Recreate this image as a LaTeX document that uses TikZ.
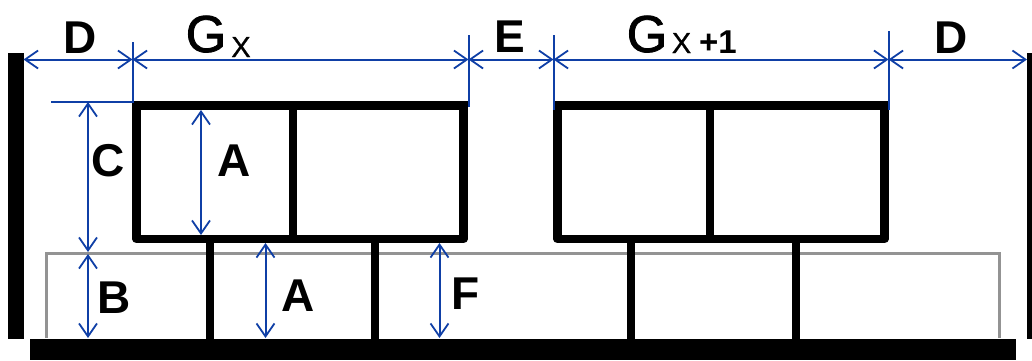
\documentclass[tikz,border=0pt]{standalone}
\usepackage{fontspec}
\setmainfont{Liberation Sans}
\newfontfamily\heavyfont[FakeBold=1.6]{Liberation Sans}
\newfontfamily\midfont[FakeBold=0.8]{Liberation Sans}
\usetikzlibrary{arrows.meta}
\definecolor{dimblue}{HTML}{0F3FA6}
\tikzset{
  dimline/.style={{Straight Barb[length=13pt,width=18pt,line width=1.8pt]}-{Straight Barb[length=13pt,width=18pt,line width=1.8pt]},dimblue,line width=2pt},
  guide/.style={dimblue,line width=2pt},
  frame/.style={black,line width=8.6pt,line join=round},
  bigtag/.style={inner sep=0pt,anchor=base,font=\fontsize{46}{46}\selectfont\bfseries},
  gtag/.style={inner sep=0pt,anchor=base,font=\fontsize{52}{52}\selectfont\heavyfont},
  xtag/.style={inner sep=0pt,anchor=base,font=\fontsize{29}{29}\selectfont\midfont},
  plustag/.style={inner sep=0pt,anchor=base,font=\fontsize{33}{33}\selectfont\bfseries}
}
\begin{document}
\begin{tikzpicture}[x=1pt,y=-1pt]
\useasboundingbox (0,0) rectangle (1032,360);
% room
\draw[gray!85,line width=2.2pt] (46.5,338) -- (46.5,253.5) -- (999.5,253.5) -- (999.5,338);
\fill[black] (8,53) rectangle (23.5,338.5);
\fill[black] (1027,53) rectangle (1032,338.5);
\fill[black] (30,339) rectangle (1016,360);
% the two units
\foreach \x/\m/\i in {132/293/1,553/710/2}{
  \draw[frame] (\x+4.5,105) -- (\x+4.5,239) -- (\x+331.5,239) -- (\x+331.5,105);
  \fill[black] (\x,101) rectangle (\x+336,110);
  \draw[black,line width=8.4pt] (\m,105) -- (\m,239);
  \draw[black,line width=8.4pt] (\x+78,243) -- (\x+78,340);
  \draw[black,line width=8.4pt] (\x+243,243) -- (\x+243,340);
}
% reference points
\coordinate (wallL) at (23.5,59.5);
\coordinate (g1L) at (132.5,59.5);
\coordinate (g1R) at (468.5,59.5);
\coordinate (g2L) at (553.5,59.5);
\coordinate (g2R) at (888.5,59.5);
\coordinate (wallR) at (1027,59.5);
\coordinate (g1Ltop) at (132.5,42);
\coordinate (g1Lbot) at (132.5,101.5);
\coordinate (g1Rtop) at (468.5,35);
\coordinate (g1Rbot) at (468.5,107);
\coordinate (g2Ltop) at (553.5,35);
\coordinate (g2Lbot) at (553.5,110);
\coordinate (g2Rtop) at (888.5,31);
\coordinate (g2Rbot) at (888.5,110);
\coordinate (cTick) at (51,101.5);
\coordinate (cTop) at (88,102);
\coordinate (cBot) at (88,252);
\coordinate (bTop) at (88,254);
\coordinate (bBot) at (88,338);
\coordinate (aTop) at (201,110);
\coordinate (aBot) at (201,235);
\coordinate (a2Top) at (265.5,243);
\coordinate (a2Bot) at (265.5,338);
\coordinate (fTop) at (439.5,243);
\coordinate (fBot) at (439.5,338);
% dimensions
\draw[guide] (g1Ltop) -- (g1Lbot) -- (cTick);
\draw[guide] (g1Rtop) -- (g1Rbot);
\draw[guide] (g2Ltop) -- (g2Lbot);
\draw[guide] (g2Rtop) -- (g2Rbot);
\draw[dimline] (wallL) -- (g1L);
\draw[dimline] (g1L) -- (g1R);
\draw[dimline] (g1R) -- (g2L);
\draw[dimline] (g2L) -- (g2R);
\draw[dimline] (g2R) -- (wallR);
\draw[dimline] (cTop) -- (cBot);
\draw[dimline] (bTop) -- (bBot);
\draw[dimline] (aTop) -- (aBot);
\draw[dimline] (a2Top) -- (a2Bot);
\draw[dimline] (fTop) -- (fBot);
% labels
\node[bigtag] (dLeft) at (80,53) {D};
\node[gtag] (g1) at (206,52) {G};
\node[xtag] (x1) at (241,57) {X};
\node[bigtag] (e) at (510,52) {E};
\node[gtag] (g2) at (647,52) {G};
\node[xtag] (x2) at (681.5,53) {X};
\node[plustag] (plus) at (718,53) {+1};
\node[bigtag] (dRight) at (951,53) {D};
\node[bigtag] (c) at (108,176) {C};
\node[bigtag] (a1) at (234,176) {A};
\node[bigtag] (b) at (114,313) {B};
\node[bigtag] (a2) at (298.5,311) {A};
\node[bigtag] (f) at (466,309) {F};
\end{tikzpicture}
\end{document}
